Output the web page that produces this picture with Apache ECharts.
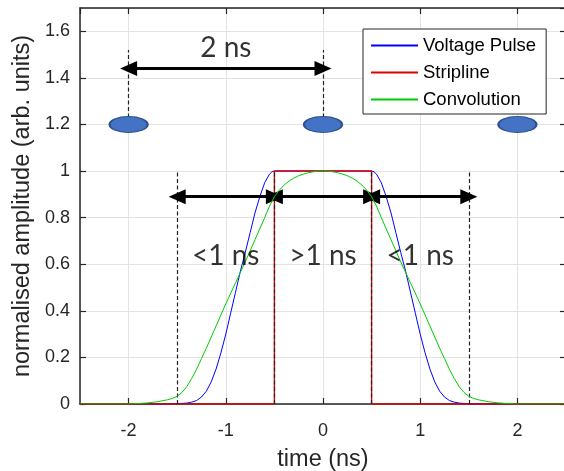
<!DOCTYPE html>
<html>
<head>
<meta charset="utf-8">
<script src="https://cdn.jsdelivr.net/npm/echarts@6/dist/echarts.min.js"></script>
<style>
html,body{margin:0;padding:0;background:#fff;}
#chart{width:564px;height:471px;}
</style>
</head>
<body>
<div id="chart"></div>
<script>
// ---- data ----
const seriesNames = ['Voltage Pulse', 'Stripline', 'Convolution'];

const tBlue = [-2.5, -1.6, -1.5, -1.4, -1.35, -1.3, -1.25, -1.2, -1.15, -1.1, -1.05, -1.0, -0.95, -0.9, -0.85, -0.8, -0.75, -0.7, -0.65, -0.6, -0.55, -0.525, -0.5,
               0.5, 0.525, 0.55, 0.6, 0.65, 0.7, 0.75, 0.8, 0.85, 0.9, 0.95, 1.0, 1.05, 1.1, 1.15, 1.2, 1.25, 1.3, 1.35, 1.4, 1.5, 1.6, 2.5];
const vBlue = [0, 0, 0.001, 0.004, 0.008, 0.015, 0.03, 0.055, 0.095, 0.15, 0.22, 0.30, 0.39, 0.48, 0.57, 0.65, 0.735, 0.82, 0.89, 0.95, 0.987, 0.997, 1,
               1, 0.997, 0.987, 0.95, 0.89, 0.82, 0.735, 0.65, 0.57, 0.48, 0.39, 0.30, 0.22, 0.15, 0.095, 0.055, 0.03, 0.015, 0.008, 0.004, 0.001, 0, 0];

const tRed = [-2.5, -0.5, -0.5, 0.5, 0.5, 2.5];
const vRed = [0, 0, 1, 1, 0, 0];

const tGreen = [-2.5, -2.0, -1.9, -1.8, -1.7, -1.6, -1.55, -1.5, -1.45, -1.4, -1.35, -1.3, -1.25, -1.2, -1.1, -1.0, -0.9, -0.8, -0.7, -0.6, -0.55, -0.5, -0.45, -0.4, -0.35, -0.3, -0.25, -0.2, -0.15, -0.1, -0.05, 0,
                0.05, 0.1, 0.15, 0.2, 0.25, 0.3, 0.35, 0.4, 0.45, 0.5, 0.55, 0.6, 0.7, 0.8, 0.9, 1.0, 1.1, 1.2, 1.25, 1.3, 1.35, 1.4, 1.45, 1.5, 1.55, 1.6, 1.7, 1.8, 1.9, 2.0, 2.5];
const vGreen = [0, 0, 0.002, 0.005, 0.01, 0.018, 0.024, 0.033, 0.05, 0.075, 0.11, 0.15, 0.195, 0.24, 0.335, 0.43, 0.52, 0.61, 0.705, 0.8, 0.85, 0.89, 0.918, 0.94, 0.957, 0.97, 0.98, 0.987, 0.993, 0.997, 0.999, 1,
                0.999, 0.997, 0.993, 0.987, 0.98, 0.97, 0.957, 0.94, 0.918, 0.89, 0.85, 0.8, 0.705, 0.61, 0.52, 0.43, 0.335, 0.24, 0.195, 0.15, 0.11, 0.075, 0.05, 0.033, 0.024, 0.018, 0.01, 0.005, 0.002, 0, 0];

// annotation shapes
const ellipseX = [-2, 0, 2];
const ellipseY = [1.2, 1.2, 1.2];
// double arrows: [xStart, xEnd, y]
const arrows = [[-2, 0, 1.44], [-1.5, -0.5, 0.89], [-0.5, 0.5, 0.89], [0.5, 1.5, 0.89]];
// dashed guides: [x, yBottom, yTop]
const guides = [[-2, 1.23, 1.52], [0, 1.23, 1.52], [-1.5, 0, 1], [-0.5, 0, 1], [0.5, 0, 1], [1.5, 0, 1]];
// text annotations: [x, y, text]
const notes = [[-1, 1.53, '2 ns'], [-1, 0.636, '<1 ns'], [0, 0.636, '>1 ns'], [1, 0.636, '<1 ns']];

const xTicks = [-2, -1, 0, 1, 2];

// ---- chart ----
const chart = echarts.init(document.getElementById('chart'), null, {renderer: 'canvas'});
const axisColor = '#262626';
const font = 'Liberation Sans, Arial, sans-serif';
const zip = (a, b) => a.map((v, i) => [v, b[i]]);

const baseX = {
  type: 'value', min: -2.5, max: 2.5,
  axisLine: {show: true, onZero: false, lineStyle: {color: axisColor, width: 1.5}},
  axisTick: {show: true, inside: true, length: 6, lineStyle: {color: axisColor, width: 1.2}},
};
const baseY = {
  type: 'value', min: 0, max: 1.7, interval: 0.2,
  axisLine: {show: true, onZero: false, lineStyle: {color: axisColor, width: 1.5}},
  axisTick: {show: true, inside: true, length: 6, lineStyle: {color: axisColor, width: 1.2}},
};

const option = {
  animation: false,
  backgroundColor: '#fff',
  grid: {left: 80, right: -2, top: 8, bottom: 67, containLabel: false, outerBoundsMode: 'none'},
  legend: {
    data: seriesNames,
    orient: 'vertical', left: 363, top: 29,
    backgroundColor: '#fff', borderColor: axisColor, borderWidth: 1, borderRadius: 0,
    padding: [7, 10, 5, 7],
    itemWidth: 47, itemHeight: 2, itemGap: 8,
    itemStyle: {color: 'transparent', borderWidth: 0, opacity: 0},
    textStyle: {fontSize: 18.5, fontFamily: font, color: '#000', lineHeight: 18},
  },
  xAxis: [
    Object.assign({}, baseX, {
      position: 'bottom',
      name: 'time (ns)', nameLocation: 'middle', nameGap: 44,
      nameTextStyle: {fontSize: 23.5, fontFamily: font, color: axisColor},
      splitLine: {show: true, lineStyle: {color: '#e3e3e3', width: 1}},
      axisLabel: {
        fontSize: 18, fontFamily: font, color: axisColor, margin: 18,
        showMinLabel: false, showMaxLabel: false,
        formatter: v => (xTicks.indexOf(v) >= 0 ? String(v) : '')
      }
    }),
    Object.assign({}, baseX, {
      position: 'top', axisLabel: {show: false}, splitLine: {show: false}
    })
  ],
  yAxis: [
    Object.assign({}, baseY, {
      position: 'left',
      name: 'normalised amplitude (arb. units)', nameLocation: 'middle', nameGap: 41,
      nameTextStyle: {fontSize: 23.5, fontFamily: font, color: axisColor},
      splitLine: {show: true, lineStyle: {color: '#e3e3e3', width: 1}},
      axisLabel: {fontSize: 18, fontFamily: font, color: axisColor, margin: 10, showMaxLabel: false}
    }),
    Object.assign({}, baseY, {
      position: 'right', axisLabel: {show: false}, splitLine: {show: false}
    })
  ],
  series: [
    {
      name: seriesNames[0], type: 'line', data: zip(tBlue, vBlue),
      symbol: 'none', smooth: false,
      lineStyle: {color: '#0000ff', width: 1}, itemStyle: {color: '#0000ff'}, z: 3
    },
    {
      name: seriesNames[1], type: 'line', data: zip(tRed, vRed),
      symbol: 'none', lineStyle: {color: '#e00000', width: 1.4}, itemStyle: {color: '#ff3333'}, z: 4
    },
    {
      name: seriesNames[2], type: 'line', data: zip(tGreen, vGreen),
      symbol: 'none', smooth: false,
      lineStyle: {color: '#00cc00', width: 1}, itemStyle: {color: '#33cc33'}, z: 5
    },
    {
      name: 'ellipses', type: 'scatter', z: 6, silent: true,
      data: zip(ellipseX, ellipseY),
      symbol: 'circle', symbolSize: [38, 16],
      itemStyle: {color: '#4472C4', borderColor: '#2F528F', borderWidth: 1.5, opacity: 1},
      markLine: {
        silent: true, animation: false, symbol: ['none', 'none'],
        label: {show: false},
        lineStyle: {color: '#222', width: 1.2, type: [4, 2.5]},
        data: guides.map(g => [{coord: [g[0], g[1]]}, {coord: [g[0], g[2]]}])
      }
    },
    {
      name: 'arrows', type: 'line', data: [], z: 7, silent: true,
      markLine: {
        silent: true, animation: false,
        symbol: ['triangle', 'triangle'], symbolSize: [15, 17],
        label: {show: false},
        lineStyle: {color: '#000', width: 3, type: 'solid'},
        itemStyle: {color: '#000'},
        data: arrows.map(a => [{coord: [a[0], a[2]]}, {coord: [a[1], a[2]]}])
      }
    },
    {
      name: 'notes', type: 'scatter', z: 8, silent: true,
      data: notes.map(n => ({value: [n[0], n[1]], text: n[2]})),
      symbolSize: 1, itemStyle: {color: 'rgba(0,0,0,0)'},
      label: {
        show: true, position: 'inside',
        formatter: p => p.data.text,
        fontFamily: 'Lato, sans-serif', fontSize: 28, color: '#000'
      }
    }
  ]
};
chart.setOption(option);
</script>
</body>
</html>
